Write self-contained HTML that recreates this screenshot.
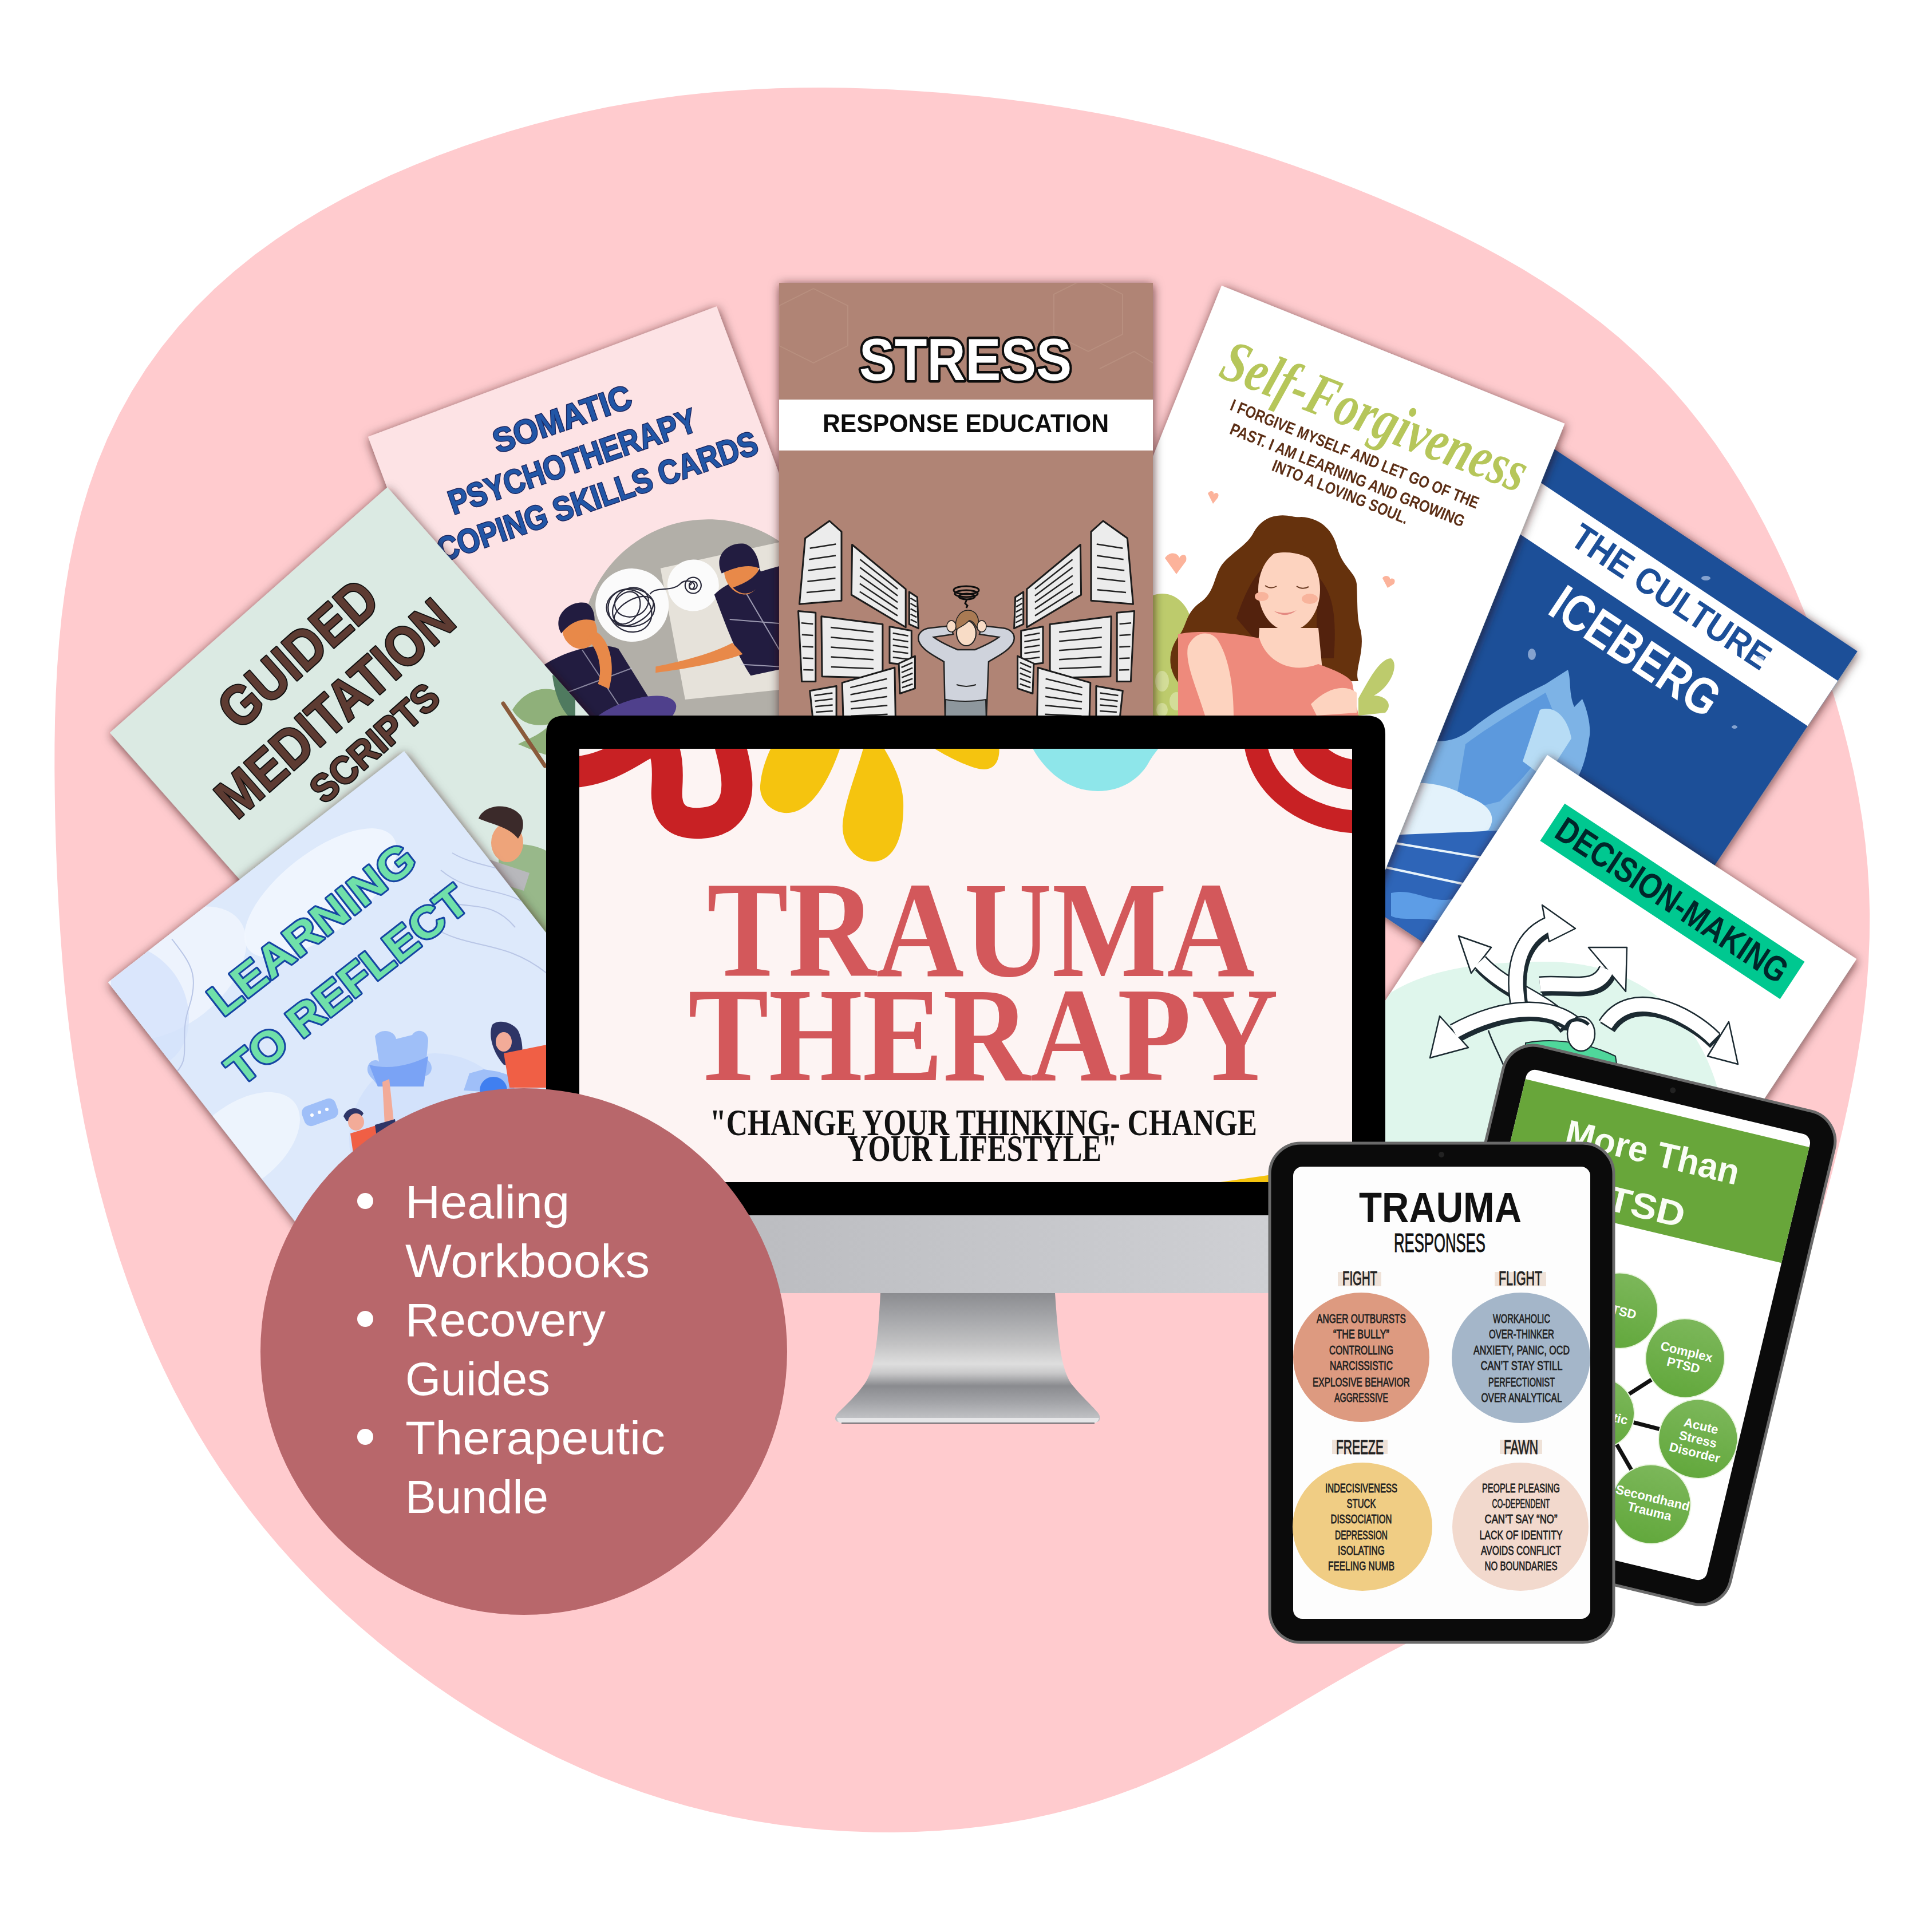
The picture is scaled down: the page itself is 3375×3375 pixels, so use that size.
<!DOCTYPE html>
<html><head><meta charset="utf-8">
<style>
html,body{margin:0;padding:0;background:#fff;width:3375px;height:3375px;overflow:hidden}
svg{display:block;font-family:"Liberation Sans",sans-serif}
.serif{font-family:"Liberation Serif",serif}
.b{font-weight:bold}
</style></head><body>
<svg xmlns="http://www.w3.org/2000/svg" width="3375" height="3375" viewBox="0 0 3375 3375">
<rect width="3375" height="3375" fill="#fff"/>
<path d="M109.1,1680.0 L106.0,1638.8 L103.3,1597.4 L101.0,1555.7 L99.1,1513.8 L97.6,1471.7 L96.4,1429.2 L95.7,1386.4 L95.3,1343.2 L95.4,1299.6 L96.1,1255.6 L97.6,1211.3 L99.9,1166.6 L103.2,1121.6 L107.7,1076.5 L113.6,1031.2 L121.1,985.9 L130.4,940.9 L141.5,896.1 L154.8,851.9 L170.2,808.3 L187.9,765.6 L207.9,724.0 L230.3,683.6 L254.9,644.6 L281.8,607.1 L310.8,571.2 L341.8,537.0 L374.6,504.6 L409.1,473.9 L445.0,445.0 L482.3,417.9 L520.7,392.5 L560.0,368.7 L600.1,346.4 L640.8,325.7 L682.0,306.3 L723.6,288.4 L765.4,271.7 L807.5,256.2 L849.7,241.9 L892.0,228.7 L934.4,216.7 L976.8,205.7 L1019.2,195.9 L1061.6,187.1 L1104.0,179.4 L1146.2,172.7 L1188.4,167.1 L1230.5,162.5 L1272.4,158.9 L1314.2,156.2 L1355.7,154.3 L1397.1,153.3 L1438.2,153.1 L1479.0,153.6 L1519.7,154.8 L1560.1,156.5 L1600.3,158.9 L1640.2,161.8 L1680.0,165.2 L1719.6,169.1 L1758.9,173.6 L1798.2,178.6 L1837.2,184.2 L1876.1,190.4 L1914.9,197.2 L1953.5,204.6 L1991.9,212.7 L2030.2,221.4 L2068.3,230.9 L2106.3,241.0 L2144.1,251.8 L2181.7,263.2 L2219.2,275.3 L2256.6,288.0 L2293.8,301.3 L2331.0,315.2 L2368.0,329.7 L2405.0,344.7 L2441.9,360.4 L2478.7,376.7 L2515.3,393.7 L2551.8,411.5 L2588.1,430.1 L2624.1,449.6 L2659.8,470.1 L2694.9,491.7 L2729.5,514.4 L2763.4,538.4 L2796.4,563.6 L2828.6,590.1 L2859.6,617.9 L2889.6,646.9 L2918.3,677.3 L2945.7,708.8 L2971.8,741.4 L2996.7,775.1 L3020.2,809.7 L3042.4,845.1 L3063.5,881.3 L3083.3,918.1 L3102.1,955.4 L3119.9,993.2 L3136.7,1031.4 L3152.6,1070.0 L3167.6,1109.0 L3181.7,1148.2 L3195.0,1187.8 L3207.3,1227.6 L3218.7,1267.7 L3229.0,1308.1 L3238.3,1348.8 L3246.3,1389.7 L3253.1,1430.8 L3258.5,1472.2 L3262.5,1513.7 L3265.1,1555.3 L3266.2,1596.9 L3265.8,1638.5 L3264.1,1680.0 L3261.0,1721.4 L3256.7,1762.6 L3251.3,1803.7 L3244.8,1844.5 L3237.5,1885.0 L3229.4,1925.4 L3220.6,1965.5 L3211.2,2005.5 L3201.2,2045.2 L3190.7,2084.8 L3179.6,2124.2 L3167.9,2163.5 L3155.5,2202.5 L3142.2,2241.3 L3127.9,2279.7 L3112.5,2317.8 L3095.7,2355.3 L3077.5,2392.0 L3057.6,2428.0 L3036.1,2462.9 L3012.8,2496.7 L2987.7,2529.2 L2960.8,2560.3 L2932.2,2589.7 L2902.0,2617.6 L2870.3,2643.9 L2837.4,2668.5 L2803.5,2691.6 L2768.7,2713.2 L2733.4,2733.4 L2697.8,2752.6 L2662.1,2770.8 L2626.5,2788.2 L2591.2,2805.2 L2556.2,2821.9 L2521.7,2838.5 L2487.7,2855.3 L2454.3,2872.2 L2421.2,2889.6 L2388.6,2907.3 L2356.2,2925.5 L2324.1,2944.0 L2291.9,2962.9 L2259.7,2982.0 L2227.2,3001.2 L2194.5,3020.2 L2161.2,3039.0 L2127.5,3057.2 L2093.2,3074.9 L2058.3,3091.7 L2022.7,3107.6 L1986.6,3122.4 L1949.9,3136.0 L1912.6,3148.4 L1874.8,3159.4 L1836.5,3169.1 L1797.9,3177.5 L1758.9,3184.6 L1719.5,3190.3 L1680.0,3194.8 L1640.2,3198.1 L1600.3,3200.1 L1560.3,3201.0 L1520.2,3200.6 L1480.0,3199.1 L1439.8,3196.5 L1399.7,3192.6 L1359.6,3187.5 L1319.6,3181.3 L1279.7,3173.8 L1240.1,3165.0 L1200.7,3155.0 L1161.6,3143.8 L1122.9,3131.3 L1084.5,3117.6 L1046.6,3102.7 L1009.1,3086.6 L972.1,3069.4 L935.5,3051.1 L899.5,3031.8 L864.1,3011.5 L829.1,2990.2 L794.7,2968.1 L760.9,2945.0 L727.7,2921.1 L695.0,2896.3 L663.0,2870.7 L631.7,2844.3 L601.0,2817.0 L571.1,2788.9 L542.0,2760.0 L513.7,2730.2 L486.3,2699.5 L459.8,2668.1 L434.3,2635.8 L409.9,2602.8 L386.4,2569.0 L364.1,2534.6 L342.8,2499.4 L322.6,2463.7 L303.4,2427.4 L285.3,2390.6 L268.2,2353.4 L252.2,2315.7 L237.1,2277.7 L222.9,2239.3 L209.6,2200.7 L197.2,2161.8 L185.7,2122.6 L175.0,2083.3 L165.1,2043.7 L156.0,2003.9 L147.6,1964.0 L140.1,1923.9 L133.3,1883.6 L127.2,1843.2 L121.7,1802.6 L116.9,1761.9 L112.7,1721.0Z" fill="#ffcbce"/>
<defs>
<clipPath id="scr"><rect x="1012" y="1308" width="1350" height="757"/></clipPath>
<filter id="sh" x="-20%" y="-20%" width="140%" height="140%"><feDropShadow dx="1" dy="3" stdDeviation="9" flood-color="#2a1616" flood-opacity="0.7"/></filter>
<linearGradient id="chin" x1="0" x2="1" y1="0" y2="0"><stop offset="0" stop-color="#b4b5b9"/><stop offset="1" stop-color="#d3d4d8"/></linearGradient>
<linearGradient id="stand" x1="0" x2="0" y1="0" y2="1">
<stop offset="0" stop-color="#8b8c90"/><stop offset="0.22" stop-color="#a9aaad"/><stop offset="0.4" stop-color="#c3c3c4"/><stop offset="0.55" stop-color="#dedede"/><stop offset="0.62" stop-color="#c9c9ca"/><stop offset="0.72" stop-color="#8a8b8f"/><stop offset="0.85" stop-color="#a3a4a8"/><stop offset="1" stop-color="#c8c9cc"/></linearGradient>
<clipPath id="cIce"><rect width="650" height="844"/></clipPath>
<clipPath id="cSF"><rect width="646" height="960"/></clipPath>
<clipPath id="cSt"><rect width="653" height="900"/></clipPath>
<clipPath id="cDec"><rect width="647" height="900"/></clipPath>
<clipPath id="cSom"><rect width="650" height="900"/></clipPath>
<clipPath id="cGui"><rect width="647" height="900"/></clipPath>
<clipPath id="cLea"><rect width="656" height="900"/></clipPath>
<radialGradient id="iceg" cx="0.4" cy="0.3" r="0.8"><stop offset="0" stop-color="#e6f3fb"/><stop offset="0.5" stop-color="#9fcbec"/><stop offset="1" stop-color="#3f7fc8"/></radialGradient>
<clipPath id="cGuiG"><polygon points="192,1280 677,851 1273,1525 788,1954"/></clipPath>
<clipPath id="cSFG"><polygon points="2134,499 2733,740 2375,1631 1776,1390"/></clipPath>
<clipPath id="cIceG"><polygon points="2704,777 3245,1138 2776,1840 2236,1479"/></clipPath>
<clipPath id="cDecG"><polygon points="2703,1319 3243,1675 2748,2427 2208,2070"/></clipPath>
<clipPath id="cSomG"><polygon points="643,763 1252,535 1567,1378 958,1606"/></clipPath>
<clipPath id="cLeaG"><polygon points="189,1716 706,1312 1260,2021 743,2425"/></clipPath>
</defs>
<g filter="url(#sh)"><g transform="translate(2704,777) rotate(33.7)">
<rect width="650" height="844" fill="#1f4f98"/>
<rect y="62" width="650" height="95" fill="#fff"/>
<text x="125" y="123" class="b" font-size="64" fill="#1f4f98" textLength="403" lengthAdjust="spacingAndGlyphs">THE CULTURE</text>
<text x="160" y="246" class="b" font-size="90" fill="#fff" textLength="335" lengthAdjust="spacingAndGlyphs">ICEBERG</text>
</g>
<g clip-path="url(#cIceG)">
<g fill="#c9dbf3" opacity="0.6"><ellipse cx="2980" cy="1010" rx="8" ry="4"/><ellipse cx="3075" cy="1150" rx="7" ry="4"/><ellipse cx="2676" cy="1143" rx="7" ry="10"/><ellipse cx="3030" cy="1270" rx="5" ry="3"/></g>
<path d="M2400,1320 L2480,1290 C2520,1300 2545,1295 2575,1270 C2620,1235 2660,1215 2700,1195 L2739,1170 C2745,1190 2740,1210 2750,1235 L2764,1221 C2775,1245 2780,1275 2776,1290 C2770,1330 2760,1360 2740,1380 L2640,1440 L2560,1480 L2400,1500Z" fill="#7db3e6"/>
<path d="M2560,1300 C2600,1270 2650,1240 2700,1210 L2720,1260 C2700,1320 2660,1360 2620,1400 L2540,1420Z" fill="#4f8fd8" opacity="0.7"/>
<path d="M2420,1380 C2460,1360 2520,1365 2560,1390 C2590,1400 2620,1420 2600,1450 L2500,1470 L2420,1470Z" fill="#e3f2fb"/>
<path d="M2690,1240 C2720,1230 2740,1260 2745,1290 L2700,1360 L2660,1330Z" fill="#b7dcf5"/>
<path d="M2400,1460 L2640,1450 L2620,1660 L2400,1660Z" fill="#2f65b8"/>
<path d="M2420,1470 L2600,1500 M2420,1515 L2560,1545" stroke="#e8f4fb" stroke-width="4"/>
<path d="M2430,1560 C2470,1550 2500,1580 2540,1570 L2520,1610 C2480,1600 2450,1610 2430,1600Z" fill="#5d9de6"/>
</g>
</g>
<g filter="url(#sh)"><g transform="translate(2134,499) rotate(21.9)">
<rect width="646" height="960" fill="#ffffff"/>
<text x="52" y="150" transform="rotate(-0.8 52 150)" class="serif b" font-style="italic" font-size="104" fill="#b6c65a" textLength="564" lengthAdjust="spacingAndGlyphs">Self-Forgiveness</text>
<g class="b" fill="#5b2f14" font-size="29">
<text x="93" y="196" textLength="465" lengthAdjust="spacingAndGlyphs">I FORGIVE MYSELF AND LET GO OF THE</text>
<text x="108" y="235" textLength="439" lengthAdjust="spacingAndGlyphs">PAST. I AM LEARNING AND GROWING</text>
<text x="200" y="267" textLength="254" lengthAdjust="spacingAndGlyphs">INTO A LOVING SOUL.</text>
</g>
</g>
<g clip-path="url(#cSFG)">
<path d="M2014,1040 C2040,1030 2070,1045 2080,1080 L2085,1260 L2014,1260Z" fill="#bdcb6c"/>
<g fill="#d9e2a4" opacity="0.8"><ellipse cx="2030" cy="1190" rx="12" ry="18"/><ellipse cx="2055" cy="1225" rx="12" ry="16"/><ellipse cx="2030" cy="1240" rx="10" ry="12"/></g>
<path d="M2373,1220 C2390,1190 2410,1150 2430,1150 C2445,1160 2430,1200 2400,1215 C2420,1215 2435,1230 2420,1245 L2373,1250Z" fill="#bdcb6c"/>
<path d="M2231,901 C2250,898 2262,905 2273,903 C2310,905 2330,930 2336,957 C2345,990 2368,1000 2370,1020 C2372,1060 2370,1080 2377,1101 C2385,1140 2365,1170 2373,1190 L2058,1192 C2035,1160 2045,1130 2060,1110 C2075,1090 2070,1070 2100,1050 C2125,1030 2120,1000 2140,980 C2160,960 2180,950 2190,930 C2200,912 2215,903 2231,901Z" fill="#663111"/>
<path d="M2160,1080 C2180,1020 2200,990 2230,975 L2230,1100 C2220,1110 2200,1120 2190,1115Z M2305,1010 C2330,1040 2335,1080 2330,1150 L2300,1150 L2300,1050Z" fill="#52230c"/>
<ellipse cx="2252" cy="1030" rx="54" ry="72" fill="#fdd3bf"/>
<path d="M2196,985 C2215,960 2270,955 2310,990 C2300,965 2275,945 2240,948 C2215,952 2200,968 2196,985Z" fill="#663111"/>
<ellipse cx="2204" cy="1042" rx="12" ry="8" fill="#f8b49c"/><ellipse cx="2288" cy="1046" rx="14" ry="9" fill="#f8b49c"/>
<path d="M2225,1067 Q2245,1075 2265,1066 Q2245,1082 2225,1067Z" fill="#e48a82"/>
<path d="M2210,1023 Q2220,1030 2230,1024 M2265,1024 Q2275,1031 2286,1025" stroke="#6b3b24" stroke-width="2" fill="none"/>
<path d="M2200,1097 L2303,1097 L2310,1170 L2195,1170Z" fill="#fdd3bf"/>
<path d="M2058,1108 C2090,1100 2150,1105 2200,1115 C2210,1150 2250,1180 2303,1160 C2330,1170 2355,1180 2362,1192 L2375,1260 L2058,1260Z" fill="#ee8a7b"/>
<path d="M2075,1130 C2085,1105 2110,1100 2125,1115 C2140,1135 2155,1180 2155,1250 L2105,1250 C2090,1200 2070,1160 2075,1130Z" fill="#fdd3bf"/>
<path d="M2290,1230 C2320,1200 2350,1195 2370,1210 L2370,1245 L2300,1250Z" fill="#fdd3bf"/>
<path d="M2035,975 C2045,960 2060,968 2060,975 C2062,968 2075,965 2072,980 L2055,1003Z" fill="#fcb39b"/>
<path d="M2415,1010 C2420,1002 2430,1008 2428,1012 C2432,1008 2440,1012 2435,1020 L2424,1027Z" fill="#fcb39b"/>
<path d="M2110,862 C2114,855 2122,858 2120,864 C2124,858 2132,862 2127,870 L2119,880Z" fill="#fcb39b"/>
</g>
</g>
<g filter="url(#sh)"><g transform="translate(643,763) rotate(-20.5)">
<rect width="650" height="900" fill="#fde3e5"/>
<g clip-path="url(#cSom)">
<circle cx="428" cy="551" r="222" fill="#b2afa8"/>
<polygon points="398,394 650,430 650,700 358,624" fill="#e6e2da"/>
<circle cx="329" cy="437" r="64" fill="#fbfbfb"/>
<circle cx="441" cy="442" r="45" fill="#fbfbfb"/>
<g fill="none" stroke="#2a2a3a" stroke-width="2.2">
<ellipse cx="325" cy="440" rx="42" ry="33" transform="rotate(20 325 440)"/>
<ellipse cx="322" cy="445" rx="35" ry="40" transform="rotate(-30 322 445)"/>
<ellipse cx="330" cy="432" rx="30" ry="25"/>
<ellipse cx="318" cy="438" rx="22" ry="30" transform="rotate(50 318 438)"/>
<ellipse cx="328" cy="448" rx="38" ry="20" transform="rotate(-10 328 448)"/>
<path d="M365,430 C380,420 400,440 420,432 C432,425 450,438 441,446 C435,452 428,440 440,438"/>
<circle cx="441" cy="442" r="14"/><circle cx="441" cy="442" r="7"/>
</g>
<path d="M470,470 C500,455 560,458 650,470 L650,650 L480,625 C470,580 470,540 470,470Z" fill="#221d40"/>
<g stroke="#cfcde0" stroke-width="2" opacity="0.7"><line x1="480" y1="520" x2="650" y2="600"/><line x1="470" y1="600" x2="650" y2="680"/><line x1="520" y1="470" x2="560" y2="700"/><line x1="600" y1="470" x2="630" y2="710"/></g>
<path d="M470,560 C430,565 380,560 330,552 L326,562 C380,575 440,585 480,585Z" fill="#e8894a"/>
<ellipse cx="528" cy="452" rx="30" ry="38" fill="#e8894a"/>
<path d="M495,440 C492,405 525,392 550,405 C565,415 565,440 560,455 C545,440 520,438 495,440Z" fill="#221d40"/>
<path d="M505,470 C515,495 545,495 560,470 L560,455 C545,470 520,470 505,470Z" fill="#221d40"/>
<path d="M120,490 C160,470 250,470 280,500 L300,600 L160,640 L100,560Z" fill="#221d40"/>
<g stroke="#cfcde0" stroke-width="2" opacity="0.6"><line x1="150" y1="490" x2="190" y2="620"/><line x1="220" y1="480" x2="250" y2="610"/><line x1="110" y1="540" x2="290" y2="540"/></g>
<ellipse cx="228" cy="445" rx="30" ry="34" fill="#e8894a"/>
<path d="M196,440 C190,405 230,390 255,405 C265,415 262,430 258,440 C240,425 215,428 196,440Z" fill="#221d40"/>
<path d="M250,455 C270,470 270,520 240,560 L225,545 C245,520 245,485 235,465Z" fill="#e8894a"/>
<ellipse cx="255" cy="625" rx="85" ry="34" fill="#4f3f8c"/>
<path d="M100,560 C110,620 90,700 150,760 L60,800 L40,600Z" fill="#3e6b52"/>
</g>
<g transform="translate(0,10) rotate(1.5 330 170)" font-size="59" class="b" fill="#2356a6" stroke="#1a2760" stroke-width="3" paint-order="stroke">
<text x="200" y="100" textLength="252" lengthAdjust="spacingAndGlyphs">SOMATIC</text>
<text x="92" y="176" textLength="454" lengthAdjust="spacingAndGlyphs">PSYCHOTHERAPY</text>
<text x="46" y="248" textLength="588" lengthAdjust="spacingAndGlyphs">COPING SKILLS CARDS</text>
</g>
</g></g>
<g filter="url(#sh)"><g transform="translate(192,1280) rotate(-41.5)">
<rect width="647" height="900" fill="#dbeae3"/>
<g font-size="98" class="b" fill="#5d3a33" stroke="#111" stroke-width="4" paint-order="stroke" stroke-linejoin="round">
<text x="170" y="148" textLength="335" lengthAdjust="spacingAndGlyphs">GUIDED</text>
<text x="64" y="262" textLength="517" lengthAdjust="spacingAndGlyphs">MEDITATION</text>
<text x="197" y="343" font-size="67" textLength="275" lengthAdjust="spacingAndGlyphs">SCRIPTS</text>
</g>
</g>
<g clip-path="url(#cGuiG)">
<path d="M895,1240 C920,1200 960,1195 990,1215 L1000,1320 C970,1330 930,1310 905,1300 C925,1290 950,1280 960,1265 C935,1270 910,1265 895,1240Z" fill="#8fb07a"/>
<path d="M965,1180 C985,1170 1000,1180 1005,1200 L1005,1260 C985,1250 970,1220 965,1180Z" fill="#4f7a5e"/>
<line x1="879" y1="1229" x2="952" y2="1338" stroke="#8a5a3a" stroke-width="7" stroke-linecap="round"/>
<path d="M871,1480 C900,1470 940,1475 960,1490 L960,1640 L871,1640Z" fill="#98b88a"/>
<path d="M850,1500 L925,1525 L915,1556 L845,1535Z" fill="#b8b8bc"/>
<ellipse cx="886" cy="1472" rx="28" ry="34" fill="#eea47a"/>
<path d="M836,1430 C845,1405 890,1400 910,1425 C918,1440 912,1455 905,1465 C890,1445 860,1440 836,1430Z" fill="#3b2a2a"/>
</g>
</g>
<g filter="url(#sh)"><g transform="translate(189,1716) rotate(-38)">
<rect width="656" height="900" fill="#dde9fb"/>
</g>
<g clip-path="url(#cLeaG)">
<ellipse cx="300" cy="1700" rx="150" ry="90" fill="#eef4fd" opacity="0.9" transform="rotate(-38 300 1700)"/>
<ellipse cx="560" cy="1560" rx="160" ry="70" fill="#f1f6fe" opacity="0.9" transform="rotate(-38 560 1560)"/>
<ellipse cx="420" cy="2000" rx="120" ry="70" fill="#f1f6fe" opacity="0.8" transform="rotate(-38 420 2000)"/>
<path d="M194,1650 C260,1640 330,1700 330,1780 C330,1830 300,1860 260,1870 L194,1800Z" fill="#d4e2fb" opacity="0.8"/>
<path d="M300,1640 C330,1680 350,1700 330,1760 C310,1820 340,1850 300,1880" fill="none" stroke="#b9c6e6" stroke-width="2"/>
<path d="M757,1560 C800,1600 850,1560 900,1620 M770,1520 C830,1570 880,1540 950,1600 M790,1490 C840,1520 900,1510 955,1560 M757,1620 C820,1660 880,1640 955,1700" fill="none" stroke="#b9c6e6" stroke-width="2"/>
<circle cx="760" cy="1990" r="150" fill="#d3e2fb"/>
<path d="M655,1810 C665,1795 690,1800 692,1815 L720,1808 C728,1795 748,1800 748,1818 L745,1850 C760,1860 755,1880 740,1880 L735,1898 L660,1898 C655,1885 640,1880 642,1865 C645,1850 660,1850 662,1855Z" fill="#9fbff8"/>
<path d="M645,1860 C680,1870 720,1860 748,1845 L740,1898 L660,1898Z" fill="#7aa3f5"/>
<rect x="528" y="1925" width="62" height="36" rx="12" fill="#9fbff8" transform="rotate(-20 559 1943)"/>
<g fill="#fff"><circle cx="545" cy="1948" r="3"/><circle cx="558" cy="1943" r="3"/><circle cx="571" cy="1938" r="3"/></g>
<path d="M668,1890 L680,1885 L688,1960 L672,1965Z" fill="#f2ab98"/>
<path d="M600,1950 C605,1935 625,1930 635,1945 C630,1955 615,1960 605,1958Z" fill="#2e3566"/>
<ellipse cx="622" cy="1960" rx="14" ry="15" fill="#f2ab98"/>
<path d="M612,1980 L660,1965 L690,1975 L680,2030 L620,2035Z" fill="#f05e45"/>
<path d="M655,1965 L690,1955 L695,1990 L660,2000Z" fill="#2e3566"/>
<path d="M810,1905 L820,1875 L845,1868 L870,1872 L895,1880 L900,1910Z" fill="#9fbff8"/>
<circle cx="862" cy="1905" r="24" fill="#3f7ff0"/>
<path d="M860,1790 C870,1780 895,1785 905,1800 C915,1820 915,1850 905,1865 L880,1860 C862,1840 852,1810 860,1790Z" fill="#2e3566"/>
<ellipse cx="880" cy="1820" rx="14" ry="17" fill="#f2ab98"/>
<path d="M880,1840 L955,1825 L955,1900 L890,1900Z" fill="#f05e45"/>
</g>
<g transform="translate(189,1716) rotate(-38)">
<g font-size="77" class="b" fill="#6fe0a9" stroke="#1345a3" stroke-width="6" paint-order="stroke" stroke-linejoin="round">
<text x="120" y="172" textLength="435" lengthAdjust="spacingAndGlyphs">LEARNING</text>
<text x="70" y="287" textLength="512" lengthAdjust="spacingAndGlyphs">TO REFLECT</text>
</g>
</g>
</g>
<g filter="url(#sh)"><g transform="translate(1361,494)">
<rect width="653" height="900" fill="#b08474"/>
<g clip-path="url(#cSt)">
<g stroke="#c09a8a" stroke-width="2" fill="none" opacity="0.5"><path d="M0,40 L60,10 L120,40 L120,110 L60,140 L0,110Z M480,20 L540,-10 L600,20 L600,90 L540,120 L480,90Z M560,150 L620,120 L653,140"/></g>
<polygon points="45.6,446.2 88.0,416.0 109.0,434.9 109.0,555.2 35.5,561.3" fill="#ececec" stroke="#1a1a1a" stroke-width="3" stroke-linejoin="round"/><line x1="53.7" y1="463.8" x2="99.2" y2="456.5" stroke="#222" stroke-width="2.5"/><line x1="52.3" y1="483.2" x2="99.0" y2="476.5" stroke="#222" stroke-width="2.5"/><line x1="50.8" y1="502.5" x2="98.7" y2="496.4" stroke="#222" stroke-width="2.5"/><line x1="49.4" y1="521.8" x2="98.5" y2="516.3" stroke="#222" stroke-width="2.5"/><line x1="48.0" y1="541.1" x2="98.2" y2="536.2" stroke="#222" stroke-width="2.5"/><polygon points="127.6,457.5 221.2,535.1 221.2,601.7 126.4,545.1" fill="#ececec" stroke="#1a1a1a" stroke-width="3" stroke-linejoin="round"/><line x1="141.4" y1="483.2" x2="207.1" y2="535.1" stroke="#222" stroke-width="2.5"/><line x1="141.3" y1="497.3" x2="207.1" y2="546.7" stroke="#222" stroke-width="2.5"/><line x1="141.1" y1="511.4" x2="207.1" y2="558.3" stroke="#222" stroke-width="2.5"/><line x1="140.9" y1="525.5" x2="207.1" y2="569.9" stroke="#222" stroke-width="2.5"/><line x1="140.8" y1="539.5" x2="207.0" y2="581.6" stroke="#222" stroke-width="2.5"/><polygon points="227.3,539.9 241.4,549.2 243.4,603.7 227.3,596.4" fill="#ececec" stroke="#1a1a1a" stroke-width="3" stroke-linejoin="round"/><line x1="229.5" y1="550.7" x2="239.6" y2="556.9" stroke="#222" stroke-width="2.5"/><line x1="229.5" y1="560.0" x2="239.9" y2="566.1" stroke="#222" stroke-width="2.5"/><line x1="229.6" y1="569.4" x2="240.2" y2="575.2" stroke="#222" stroke-width="2.5"/><line x1="229.6" y1="578.8" x2="240.4" y2="584.3" stroke="#222" stroke-width="2.5"/><line x1="229.7" y1="588.1" x2="240.7" y2="593.5" stroke="#222" stroke-width="2.5"/><polygon points="33.5,573.4 63.8,576.2 63.8,696.5 39.6,696.5" fill="#ececec" stroke="#1a1a1a" stroke-width="3" stroke-linejoin="round"/><line x1="38.9" y1="594.3" x2="59.4" y2="595.9" stroke="#222" stroke-width="2.5"/><line x1="39.8" y1="614.7" x2="59.5" y2="616.0" stroke="#222" stroke-width="2.5"/><line x1="40.6" y1="635.2" x2="59.7" y2="636.2" stroke="#222" stroke-width="2.5"/><line x1="41.5" y1="655.6" x2="59.8" y2="656.3" stroke="#222" stroke-width="2.5"/><line x1="42.3" y1="676.1" x2="60.0" y2="676.4" stroke="#222" stroke-width="2.5"/><polygon points="73.9,582.7 180.9,596.4 180.9,690.5 75.1,687.7" fill="#ececec" stroke="#1a1a1a" stroke-width="3" stroke-linejoin="round"/><line x1="90.1" y1="602.0" x2="164.8" y2="610.3" stroke="#222" stroke-width="2.5"/><line x1="90.3" y1="619.2" x2="164.9" y2="626.3" stroke="#222" stroke-width="2.5"/><line x1="90.4" y1="636.4" x2="164.9" y2="642.2" stroke="#222" stroke-width="2.5"/><line x1="90.6" y1="653.6" x2="164.9" y2="658.2" stroke="#222" stroke-width="2.5"/><line x1="90.8" y1="670.9" x2="165.0" y2="674.1" stroke="#222" stroke-width="2.5"/><polygon points="193.0,600.5 231.3,607.7 231.3,668.3 193.0,664.2" fill="#ececec" stroke="#1a1a1a" stroke-width="3" stroke-linejoin="round"/><line x1="198.7" y1="612.1" x2="225.6" y2="616.8" stroke="#222" stroke-width="2.5"/><line x1="198.7" y1="622.6" x2="225.6" y2="627.0" stroke="#222" stroke-width="2.5"/><line x1="198.7" y1="633.2" x2="225.6" y2="637.2" stroke="#222" stroke-width="2.5"/><line x1="198.7" y1="643.7" x2="225.6" y2="647.3" stroke="#222" stroke-width="2.5"/><line x1="198.7" y1="654.3" x2="225.6" y2="657.5" stroke="#222" stroke-width="2.5"/><polygon points="53.7,712.7 100.1,704.6 100.1,769.2 59.7,769.2" fill="#ececec" stroke="#1a1a1a" stroke-width="3" stroke-linejoin="round"/><line x1="61.5" y1="721.1" x2="93.3" y2="716.4" stroke="#222" stroke-width="2.5"/><line x1="62.4" y1="730.7" x2="93.5" y2="727.0" stroke="#222" stroke-width="2.5"/><line x1="63.2" y1="740.3" x2="93.6" y2="737.5" stroke="#222" stroke-width="2.5"/><line x1="64.1" y1="750.0" x2="93.8" y2="748.1" stroke="#222" stroke-width="2.5"/><line x1="64.9" y1="759.6" x2="93.9" y2="758.6" stroke="#222" stroke-width="2.5"/><polygon points="110.2,698.6 201.9,672.3 203.5,769.2 112.2,769.2" fill="#ececec" stroke="#1a1a1a" stroke-width="3" stroke-linejoin="round"/><line x1="124.3" y1="707.1" x2="188.4" y2="691.7" stroke="#222" stroke-width="2.5"/><line x1="124.6" y1="719.5" x2="188.7" y2="707.2" stroke="#222" stroke-width="2.5"/><line x1="124.9" y1="731.9" x2="188.9" y2="722.7" stroke="#222" stroke-width="2.5"/><line x1="125.3" y1="744.3" x2="189.2" y2="738.2" stroke="#222" stroke-width="2.5"/><line x1="125.6" y1="756.8" x2="189.5" y2="753.7" stroke="#222" stroke-width="2.5"/><polygon points="209.1,665.0 237.4,652.1 237.4,708.6 211.1,717.5" fill="#ececec" stroke="#1a1a1a" stroke-width="3" stroke-linejoin="round"/><line x1="213.6" y1="672.0" x2="233.2" y2="663.4" stroke="#222" stroke-width="2.5"/><line x1="213.9" y1="680.8" x2="233.2" y2="672.7" stroke="#222" stroke-width="2.5"/><line x1="214.2" y1="689.7" x2="233.3" y2="682.0" stroke="#222" stroke-width="2.5"/><line x1="214.5" y1="698.5" x2="233.3" y2="691.3" stroke="#222" stroke-width="2.5"/><line x1="214.8" y1="707.3" x2="233.4" y2="700.7" stroke="#222" stroke-width="2.5"/><polygon points="608.4,446.2 566.0,416.0 545.0,434.9 545.0,555.2 618.5,561.3" fill="#ececec" stroke="#1a1a1a" stroke-width="3" stroke-linejoin="round"/><line x1="600.3" y1="463.8" x2="554.8" y2="456.5" stroke="#222" stroke-width="2.5"/><line x1="601.7" y1="483.2" x2="555.0" y2="476.5" stroke="#222" stroke-width="2.5"/><line x1="603.2" y1="502.5" x2="555.3" y2="496.4" stroke="#222" stroke-width="2.5"/><line x1="604.6" y1="521.8" x2="555.5" y2="516.3" stroke="#222" stroke-width="2.5"/><line x1="606.0" y1="541.1" x2="555.8" y2="536.2" stroke="#222" stroke-width="2.5"/><polygon points="526.4,457.5 432.8,535.1 432.8,601.7 527.6,545.1" fill="#ececec" stroke="#1a1a1a" stroke-width="3" stroke-linejoin="round"/><line x1="512.6" y1="483.2" x2="446.9" y2="535.1" stroke="#222" stroke-width="2.5"/><line x1="512.7" y1="497.3" x2="446.9" y2="546.7" stroke="#222" stroke-width="2.5"/><line x1="512.9" y1="511.4" x2="446.9" y2="558.3" stroke="#222" stroke-width="2.5"/><line x1="513.1" y1="525.5" x2="446.9" y2="569.9" stroke="#222" stroke-width="2.5"/><line x1="513.2" y1="539.5" x2="447.0" y2="581.6" stroke="#222" stroke-width="2.5"/><polygon points="426.7,539.9 412.6,549.2 410.6,603.7 426.7,596.4" fill="#ececec" stroke="#1a1a1a" stroke-width="3" stroke-linejoin="round"/><line x1="424.5" y1="550.7" x2="414.4" y2="556.9" stroke="#222" stroke-width="2.5"/><line x1="424.5" y1="560.0" x2="414.1" y2="566.1" stroke="#222" stroke-width="2.5"/><line x1="424.4" y1="569.4" x2="413.9" y2="575.2" stroke="#222" stroke-width="2.5"/><line x1="424.4" y1="578.8" x2="413.6" y2="584.3" stroke="#222" stroke-width="2.5"/><line x1="424.3" y1="588.1" x2="413.3" y2="593.5" stroke="#222" stroke-width="2.5"/><polygon points="620.5,573.4 590.2,576.2 590.2,696.5 614.4,696.5" fill="#ececec" stroke="#1a1a1a" stroke-width="3" stroke-linejoin="round"/><line x1="615.1" y1="594.3" x2="594.6" y2="595.9" stroke="#222" stroke-width="2.5"/><line x1="614.2" y1="614.7" x2="594.5" y2="616.0" stroke="#222" stroke-width="2.5"/><line x1="613.4" y1="635.2" x2="594.3" y2="636.2" stroke="#222" stroke-width="2.5"/><line x1="612.5" y1="655.6" x2="594.2" y2="656.3" stroke="#222" stroke-width="2.5"/><line x1="611.7" y1="676.1" x2="594.0" y2="676.4" stroke="#222" stroke-width="2.5"/><polygon points="580.1,582.7 473.1,596.4 473.1,690.5 578.9,687.7" fill="#ececec" stroke="#1a1a1a" stroke-width="3" stroke-linejoin="round"/><line x1="563.9" y1="602.0" x2="489.2" y2="610.3" stroke="#222" stroke-width="2.5"/><line x1="563.7" y1="619.2" x2="489.1" y2="626.3" stroke="#222" stroke-width="2.5"/><line x1="563.6" y1="636.4" x2="489.1" y2="642.2" stroke="#222" stroke-width="2.5"/><line x1="563.4" y1="653.6" x2="489.1" y2="658.2" stroke="#222" stroke-width="2.5"/><line x1="563.2" y1="670.9" x2="489.0" y2="674.1" stroke="#222" stroke-width="2.5"/><polygon points="461.0,600.5 422.7,607.7 422.7,668.3 461.0,664.2" fill="#ececec" stroke="#1a1a1a" stroke-width="3" stroke-linejoin="round"/><line x1="455.3" y1="612.1" x2="428.4" y2="616.8" stroke="#222" stroke-width="2.5"/><line x1="455.3" y1="622.6" x2="428.4" y2="627.0" stroke="#222" stroke-width="2.5"/><line x1="455.3" y1="633.2" x2="428.4" y2="637.2" stroke="#222" stroke-width="2.5"/><line x1="455.3" y1="643.7" x2="428.4" y2="647.3" stroke="#222" stroke-width="2.5"/><line x1="455.3" y1="654.3" x2="428.4" y2="657.5" stroke="#222" stroke-width="2.5"/><polygon points="600.3,712.7 553.9,704.6 553.9,769.2 594.3,769.2" fill="#ececec" stroke="#1a1a1a" stroke-width="3" stroke-linejoin="round"/><line x1="592.5" y1="721.1" x2="560.7" y2="716.4" stroke="#222" stroke-width="2.5"/><line x1="591.6" y1="730.7" x2="560.6" y2="727.0" stroke="#222" stroke-width="2.5"/><line x1="590.8" y1="740.3" x2="560.4" y2="737.5" stroke="#222" stroke-width="2.5"/><line x1="589.9" y1="750.0" x2="560.2" y2="748.1" stroke="#222" stroke-width="2.5"/><line x1="589.1" y1="759.6" x2="560.1" y2="758.6" stroke="#222" stroke-width="2.5"/><polygon points="543.8,698.6 452.2,672.3 450.5,769.2 541.8,769.2" fill="#ececec" stroke="#1a1a1a" stroke-width="3" stroke-linejoin="round"/><line x1="529.7" y1="707.1" x2="465.6" y2="691.7" stroke="#222" stroke-width="2.5"/><line x1="529.4" y1="719.5" x2="465.3" y2="707.2" stroke="#222" stroke-width="2.5"/><line x1="529.1" y1="731.9" x2="465.1" y2="722.7" stroke="#222" stroke-width="2.5"/><line x1="528.7" y1="744.3" x2="464.8" y2="738.2" stroke="#222" stroke-width="2.5"/><line x1="528.4" y1="756.8" x2="464.5" y2="753.7" stroke="#222" stroke-width="2.5"/><polygon points="444.9,665.0 416.6,652.1 416.6,708.6 442.9,717.5" fill="#ececec" stroke="#1a1a1a" stroke-width="3" stroke-linejoin="round"/><line x1="440.4" y1="672.0" x2="420.8" y2="663.4" stroke="#222" stroke-width="2.5"/><line x1="440.1" y1="680.8" x2="420.8" y2="672.7" stroke="#222" stroke-width="2.5"/><line x1="439.8" y1="689.7" x2="420.7" y2="682.0" stroke="#222" stroke-width="2.5"/><line x1="439.5" y1="698.5" x2="420.7" y2="691.3" stroke="#222" stroke-width="2.5"/><line x1="439.2" y1="707.3" x2="420.6" y2="700.7" stroke="#222" stroke-width="2.5"/>

<path d="M290,760 L288,662 C272,652 250,642 244,626 C240,612 252,604 264,603 L300,599 L304,614 L270,619 C282,628 300,636 312,641 L342,641 C354,636 372,628 384,619 L350,614 L354,599 L390,603 C402,604 414,612 410,626 C404,642 382,652 366,662 L362,760 Z" fill="#cfd3dc" stroke="#222" stroke-width="2.5"/>
<path d="M291,728 C310,732 340,732 361,728 L362,770 L290,770Z" fill="#8e979d" stroke="#222" stroke-width="2"/>
<path d="M310,702 Q327,708 344,702" fill="none" stroke="#222" stroke-width="2"/>
<ellipse cx="327" cy="612" rx="17" ry="22" fill="#f8dcc6" stroke="#222" stroke-width="2"/>
<path d="M309,606 C305,585 318,572 330,572 C344,572 352,585 347,606 C342,596 338,590 332,590 C325,598 318,600 309,606Z" fill="#a97a52" stroke="#222" stroke-width="1.5"/>
<ellipse cx="301" cy="600" rx="8" ry="10" fill="#f8dcc6" stroke="#222" stroke-width="1.5"/>
<ellipse cx="354" cy="600" rx="8" ry="10" fill="#f8dcc6" stroke="#222" stroke-width="1.5"/>
<g fill="none" stroke="#111" stroke-width="3"><ellipse cx="327" cy="537" rx="22" ry="7"/><ellipse cx="327" cy="543" rx="20" ry="6"/><ellipse cx="328" cy="548" rx="14" ry="5"/><path d="M328,553 L325,560 L329,564 L327,568"/></g>

</g>
<rect y="204" width="653" height="89" fill="#fff"/>
<text x="140" y="170" class="b" font-size="104" fill="#fff" stroke="#111" stroke-width="9" paint-order="stroke" stroke-linejoin="round" textLength="371" lengthAdjust="spacingAndGlyphs">STRESS</text>
<text x="76" y="261" class="b" font-size="45" fill="#111" textLength="500" lengthAdjust="spacingAndGlyphs">RESPONSE EDUCATION</text>
</g></g>
<g filter="url(#sh)"><g transform="translate(2703,1319) rotate(33.4)">
<rect width="647" height="900" fill="#ffffff"/>
<rect x="72" y="54" width="502" height="78" fill="#00c890"/>
<text x="86" y="113" class="b" font-size="62" fill="#06282a" textLength="471" lengthAdjust="spacingAndGlyphs">DECISION-MAKING</text>
</g>
<g clip-path="url(#cDecG)">
<path d="M2420,1740 C2480,1700 2560,1680 2700,1680 C2850,1680 2960,1760 3000,1900 C3020,2000 2990,2100 2950,2200 L2420,2200Z" fill="#dff6ec"/>
<path d="M2735,1790 C2700,1745 2630,1730 2585,1680" fill="none" stroke="#1b2a30" stroke-width="30" stroke-linecap="butt" transform="translate(3,5)"/><path d="M2735,1790 C2700,1745 2630,1730 2585,1680" fill="none" stroke="#1b2a30" stroke-width="29" stroke-linecap="butt"/><polygon points="2548,1635 2605,1655 2570,1700" fill="#fff" stroke="#1b2a30" stroke-width="2.5" stroke-linejoin="round"/><path d="M2735,1790 C2700,1745 2630,1730 2585,1680" fill="none" stroke="#fff" stroke-width="24" stroke-linecap="butt"/><path d="M2655,1770 C2640,1700 2650,1640 2705,1615" fill="none" stroke="#1b2a30" stroke-width="30" stroke-linecap="butt" transform="translate(3,5)"/><path d="M2655,1770 C2640,1700 2650,1640 2705,1615" fill="none" stroke="#1b2a30" stroke-width="29" stroke-linecap="butt"/><polygon points="2694,1581 2752,1622 2706,1645" fill="#fff" stroke="#1b2a30" stroke-width="2.5" stroke-linejoin="round"/><path d="M2655,1770 C2640,1700 2650,1640 2705,1615" fill="none" stroke="#fff" stroke-width="24" stroke-linecap="butt"/><path d="M2690,1720 C2740,1715 2790,1735 2807,1693" fill="none" stroke="#1b2a30" stroke-width="30" stroke-linecap="butt" transform="translate(3,5)"/><path d="M2690,1720 C2740,1715 2790,1735 2807,1693" fill="none" stroke="#1b2a30" stroke-width="29" stroke-linecap="butt"/><polygon points="2775,1655 2842,1655 2840,1732" fill="#fff" stroke="#1b2a30" stroke-width="2.5" stroke-linejoin="round"/><path d="M2690,1720 C2740,1715 2790,1735 2807,1693" fill="none" stroke="#fff" stroke-width="24" stroke-linecap="butt"/><path d="M2770,1810 C2725,1745 2625,1755 2540,1802" fill="none" stroke="#1b2a30" stroke-width="30" stroke-linecap="butt" transform="translate(3,5)"/><path d="M2770,1810 C2725,1745 2625,1755 2540,1802" fill="none" stroke="#1b2a30" stroke-width="29" stroke-linecap="butt"/><polygon points="2498,1848 2515,1775 2565,1830" fill="#fff" stroke="#1b2a30" stroke-width="2.5" stroke-linejoin="round"/><path d="M2770,1810 C2725,1745 2625,1755 2540,1802" fill="none" stroke="#fff" stroke-width="24" stroke-linecap="butt"/><path d="M2805,1790 C2850,1720 2950,1770 2995,1815" fill="none" stroke="#1b2a30" stroke-width="30" stroke-linecap="butt" transform="translate(3,5)"/><path d="M2805,1790 C2850,1720 2950,1770 2995,1815" fill="none" stroke="#1b2a30" stroke-width="29" stroke-linecap="butt"/><polygon points="3036,1859 2983,1845 3020,1785" fill="#fff" stroke="#1b2a30" stroke-width="2.5" stroke-linejoin="round"/><path d="M2805,1790 C2850,1720 2950,1770 2995,1815" fill="none" stroke="#fff" stroke-width="24" stroke-linecap="butt"/>
<path d="M2665,1822 C2700,1815 2760,1815 2822,1845 L2830,1900 L2660,1900Z" fill="#4fd79b" stroke="#1b2a30" stroke-width="2"/>
<ellipse cx="2762" cy="1806" rx="24" ry="30" fill="#fff" stroke="#1b2a30" stroke-width="2.5"/>
<path d="M2735,1800 C2735,1780 2760,1775 2775,1790" fill="none" stroke="#1b2a30" stroke-width="6"/>
<path d="M2600,1800 C2610,1830 2630,1860 2640,1900" fill="none" stroke="#1b2a30" stroke-width="2.5"/>
</g>
</g>
<g id="monitor">
<path d="M1538,2259 L1843,2259 C1848,2330 1852,2390 1872,2418 C1890,2440 1910,2458 1918,2468 C1924,2476 1922,2484 1915,2484 L1466,2484 C1458,2484 1456,2476 1464,2468 C1474,2458 1494,2440 1510,2418 C1530,2390 1534,2330 1538,2259Z" fill="url(#stand)"/>
<path d="M1462,2477 L1920,2477 C1918,2484 1914,2487 1905,2487 L1476,2487 C1467,2487 1463,2484 1462,2477Z" fill="#e6e6e8"/><path d="M1470,2486 L1912,2486" stroke="#6d6e72" stroke-width="2"/>
<path d="M987,1250 L2387,1250 Q2420,1250 2420,1283 L2420,2123 L954,2123 L954,1283 Q954,1250 987,1250Z" fill="#000"/>
<rect x="954" y="2123" width="1466" height="136" fill="url(#chin)"/>
<rect x="1012" y="1308" width="1350" height="757" fill="#fdf4f3"/>
<g clip-path="url(#scr)">
<path d="M985,1350 C1050,1350 1095,1318 1125,1300 C1165,1280 1168,1330 1165,1378 C1162,1425 1185,1440 1224,1438 C1272,1436 1290,1405 1287,1362 C1285,1335 1278,1312 1272,1290" fill="none" stroke="#c82124" stroke-width="54" stroke-linecap="round"/>
<path d="M1350,1300 C1340,1320 1330,1345 1328,1372 C1326,1400 1350,1422 1378,1420 C1420,1416 1450,1360 1470,1300 Z" fill="#f5c40f"/>
<path d="M1510,1300 C1500,1340 1475,1400 1472,1440 C1470,1475 1495,1505 1525,1505 C1555,1505 1580,1475 1578,1400 C1576,1360 1555,1325 1540,1300 Z" fill="#f5c40f"/>
<path d="M1620,1300 C1650,1320 1700,1345 1720,1344 C1740,1343 1748,1325 1745,1300 Z" fill="#f5c40f"/>
<path d="M1800,1300 C1820,1340 1860,1382 1918,1382 C1960,1382 1990,1360 2005,1335 C2012,1322 2020,1312 2030,1300 Z" fill="#8ee6ea"/>
<ellipse cx="2380" cy="1282" rx="188" ry="154" fill="none" stroke="#c82124" stroke-width="40"/>
<ellipse cx="2380" cy="1282" rx="100" ry="72" fill="none" stroke="#c82124" stroke-width="52"/>
<path d="M2125,2066 L2362,2032 L2362,2066 Z" fill="#f5c40f"/>
</g>
<g class="serif b" fill="#d3585b">
<text x="1235" y="1705" font-size="240" textLength="957" lengthAdjust="spacingAndGlyphs">TRAUMA</text>
<text x="1202" y="1887" font-size="236" textLength="1031" lengthAdjust="spacingAndGlyphs">THERAPY</text>
</g>
<g class="serif b" fill="#111" font-size="66">
<text x="1240" y="1983" textLength="956" lengthAdjust="spacingAndGlyphs">"CHANGE YOUR THINKING- CHANGE</text>
<text x="1480" y="2028" textLength="472" lengthAdjust="spacingAndGlyphs">YOUR LIFESTYLE"</text>
</g>
</g>
<circle cx="915" cy="2361" r="460" fill="#b8676b"/>
<g fill="#fff">
<circle cx="638" cy="2098" r="14"/><circle cx="638" cy="2304" r="14"/><circle cx="638" cy="2510" r="14"/>
</g>
<g fill="#fff" font-size="81">
<text x="708" y="2128" textLength="287" lengthAdjust="spacingAndGlyphs">Healing</text>
<text x="708" y="2231" textLength="427" lengthAdjust="spacingAndGlyphs">Workbooks</text>
<text x="708" y="2334" textLength="350" lengthAdjust="spacingAndGlyphs">Recovery</text>
<text x="708" y="2437" textLength="253" lengthAdjust="spacingAndGlyphs">Guides</text>
<text x="708" y="2540" textLength="454" lengthAdjust="spacingAndGlyphs">Therapeutic</text>
<text x="708" y="2643" textLength="250" lengthAdjust="spacingAndGlyphs">Bundle</text>
</g>
<g transform="translate(2824,2314) rotate(13.5)">
<defs><linearGradient id="gc" x1="0" x2="0" y1="0" y2="1"><stop offset="0" stop-color="#7cb75a"/><stop offset="1" stop-color="#62a83c"/></linearGradient></defs>
<rect x="-297" y="-442" width="595" height="885" rx="54" fill="#0b0b0b" stroke="#6a6a6a" stroke-width="5"/>
<rect x="-255" y="-400" width="510" height="801" rx="16" fill="#fff"/>
<rect x="-255" y="-380" width="510" height="208" fill="#68a63a"/>
<circle cx="0" cy="-421" r="5" fill="#222"/>
<g class="b" fill="#fafdf5" font-size="62">
<text x="-164" y="-286" textLength="310" lengthAdjust="spacingAndGlyphs">More Than</text>
<text x="-112" y="-191" textLength="183" lengthAdjust="spacingAndGlyphs">PTSD</text>
</g>
<g stroke="#111" stroke-width="7"><line x1="6" y1="158" x2="130" y2="29"/><line x1="6" y1="158" x2="185" y2="161"/><line x1="6" y1="158" x2="132" y2="291"/><line x1="6" y1="158" x2="0" y2="-25"/><line x1="6" y1="158" x2="-150" y2="80"/><line x1="6" y1="158" x2="-140" y2="250"/></g>
<circle cx="0" cy="-25" r="66" fill="url(#gc)" stroke="#eaf5e0" stroke-width="2"/><text x="0" y="-17" text-anchor="middle" class="b" font-size="22" fill="#fff">PTSD</text><circle cx="6" cy="158" r="62" fill="url(#gc)" stroke="#eaf5e0" stroke-width="2"/><text x="6" y="166" text-anchor="middle" class="b" font-size="22" fill="#fff">Traumatic</text><circle cx="130" cy="29" r="69" fill="url(#gc)" stroke="#eaf5e0" stroke-width="2"/><text x="130" y="25" text-anchor="middle" class="b" font-size="22" fill="#fff">Complex</text><text x="130" y="49" text-anchor="middle" class="b" font-size="22" fill="#fff">PTSD</text><circle cx="185" cy="161" r="69" fill="url(#gc)" stroke="#eaf5e0" stroke-width="2"/><text x="185" y="145" text-anchor="middle" class="b" font-size="22" fill="#fff">Acute</text><text x="185" y="169" text-anchor="middle" class="b" font-size="22" fill="#fff">Stress</text><text x="185" y="193" text-anchor="middle" class="b" font-size="22" fill="#fff">Disorder</text><circle cx="132" cy="291" r="69" fill="url(#gc)" stroke="#eaf5e0" stroke-width="2"/><text x="132" y="287" text-anchor="middle" class="b" font-size="22" fill="#fff">Secondhand</text><text x="132" y="311" text-anchor="middle" class="b" font-size="22" fill="#fff">Trauma</text>
</g>
<g>
<rect x="2218" y="1997" width="601" height="872" rx="54" fill="#0b0b0b" stroke="#6a6a6a" stroke-width="5"/>
<rect x="2259" y="2038" width="519" height="790" rx="16" fill="#fdfdfd"/>
<circle cx="2518" cy="2017" r="5" fill="#222"/>
<text x="2374" y="2135" class="b" font-size="74" fill="#111" textLength="284" lengthAdjust="spacingAndGlyphs">TRAUMA</text>
<text x="2435" y="2187" font-size="47" fill="#111" stroke="#111" stroke-width="1" textLength="160" lengthAdjust="spacingAndGlyphs">RESPONSES</text>
<g fill="#efe2d8"><rect x="2337" y="2222" width="76" height="25"/><rect x="2611" y="2222" width="90" height="25"/><rect x="2327" y="2515" width="97" height="25"/><rect x="2620" y="2515" width="74" height="25"/></g>
<g font-size="35" fill="#222" stroke="#222" stroke-width="1">
<text x="2345" y="2245" textLength="61" lengthAdjust="spacingAndGlyphs">FIGHT</text>
<text x="2618" y="2245" textLength="76" lengthAdjust="spacingAndGlyphs">FLIGHT</text>
<text x="2334" y="2540" textLength="83" lengthAdjust="spacingAndGlyphs">FREEZE</text>
<text x="2627" y="2540" textLength="60" lengthAdjust="spacingAndGlyphs">FAWN</text>
</g>
<ellipse cx="2378" cy="2371" rx="119" ry="113" fill="#dd9a80"/>
<ellipse cx="2657" cy="2372" rx="121" ry="114" fill="#a4b6c9"/>
<ellipse cx="2380" cy="2667" rx="122" ry="112" fill="#f0cd84"/>
<ellipse cx="2656" cy="2667" rx="119" ry="112" fill="#f2d9cd"/>
<text x="2300.0" y="2311" font-size="22" fill="#222" stroke="#222" stroke-width="0.8" textLength="156" lengthAdjust="spacingAndGlyphs">ANGER OUTBURSTS</text><text x="2329.0" y="2338" font-size="22" fill="#222" stroke="#222" stroke-width="0.8" textLength="98" lengthAdjust="spacingAndGlyphs">“THE BULLY”</text><text x="2322.0" y="2366" font-size="22" fill="#222" stroke="#222" stroke-width="0.8" textLength="112" lengthAdjust="spacingAndGlyphs">CONTROLLING</text><text x="2323.0" y="2393" font-size="22" fill="#222" stroke="#222" stroke-width="0.8" textLength="110" lengthAdjust="spacingAndGlyphs">NARCISSISTIC</text><text x="2293.0" y="2422" font-size="22" fill="#222" stroke="#222" stroke-width="0.8" textLength="170" lengthAdjust="spacingAndGlyphs">EXPLOSIVE BEHAVIOR</text><text x="2331.0" y="2449" font-size="22" fill="#222" stroke="#222" stroke-width="0.8" textLength="94" lengthAdjust="spacingAndGlyphs">AGGRESSIVE</text><text x="2608.0" y="2311" font-size="22" fill="#222" stroke="#222" stroke-width="0.8" textLength="100" lengthAdjust="spacingAndGlyphs">WORKAHOLIC</text><text x="2601.0" y="2338" font-size="22" fill="#222" stroke="#222" stroke-width="0.8" textLength="114" lengthAdjust="spacingAndGlyphs">OVER-THINKER</text><text x="2574.0" y="2366" font-size="22" fill="#222" stroke="#222" stroke-width="0.8" textLength="168" lengthAdjust="spacingAndGlyphs">ANXIETY, PANIC, OCD</text><text x="2586.5" y="2393" font-size="22" fill="#222" stroke="#222" stroke-width="0.8" textLength="143" lengthAdjust="spacingAndGlyphs">CAN’T STAY STILL</text><text x="2600.0" y="2422" font-size="22" fill="#222" stroke="#222" stroke-width="0.8" textLength="116" lengthAdjust="spacingAndGlyphs">PERFECTIONIST</text><text x="2587.5" y="2449" font-size="22" fill="#222" stroke="#222" stroke-width="0.8" textLength="141" lengthAdjust="spacingAndGlyphs">OVER ANALYTICAL</text><text x="2315.0" y="2607" font-size="22" fill="#222" stroke="#222" stroke-width="0.8" textLength="126" lengthAdjust="spacingAndGlyphs">INDECISIVENESS</text><text x="2352.5" y="2634" font-size="22" fill="#222" stroke="#222" stroke-width="0.8" textLength="51" lengthAdjust="spacingAndGlyphs">STUCK</text><text x="2324.5" y="2661" font-size="22" fill="#222" stroke="#222" stroke-width="0.8" textLength="107" lengthAdjust="spacingAndGlyphs">DISSOCIATION</text><text x="2332.0" y="2689" font-size="22" fill="#222" stroke="#222" stroke-width="0.8" textLength="92" lengthAdjust="spacingAndGlyphs">DEPRESSION</text><text x="2337.0" y="2716" font-size="22" fill="#222" stroke="#222" stroke-width="0.8" textLength="82" lengthAdjust="spacingAndGlyphs">ISOLATING</text><text x="2320.0" y="2743" font-size="22" fill="#222" stroke="#222" stroke-width="0.8" textLength="116" lengthAdjust="spacingAndGlyphs">FEELING NUMB</text><text x="2589.0" y="2607" font-size="22" fill="#222" stroke="#222" stroke-width="0.8" textLength="136" lengthAdjust="spacingAndGlyphs">PEOPLE PLEASING</text><text x="2606.5" y="2634" font-size="22" fill="#222" stroke="#222" stroke-width="0.8" textLength="101" lengthAdjust="spacingAndGlyphs">CO-DEPENDENT</text><text x="2593.5" y="2661" font-size="22" fill="#222" stroke="#222" stroke-width="0.8" textLength="127" lengthAdjust="spacingAndGlyphs">CAN’T SAY “NO”</text><text x="2584.5" y="2689" font-size="22" fill="#222" stroke="#222" stroke-width="0.8" textLength="145" lengthAdjust="spacingAndGlyphs">LACK OF IDENTITY</text><text x="2587.0" y="2716" font-size="22" fill="#222" stroke="#222" stroke-width="0.8" textLength="140" lengthAdjust="spacingAndGlyphs">AVOIDS CONFLICT</text><text x="2593.5" y="2743" font-size="22" fill="#222" stroke="#222" stroke-width="0.8" textLength="127" lengthAdjust="spacingAndGlyphs">NO BOUNDARIES</text>
</g>
</svg>
</body></html>
